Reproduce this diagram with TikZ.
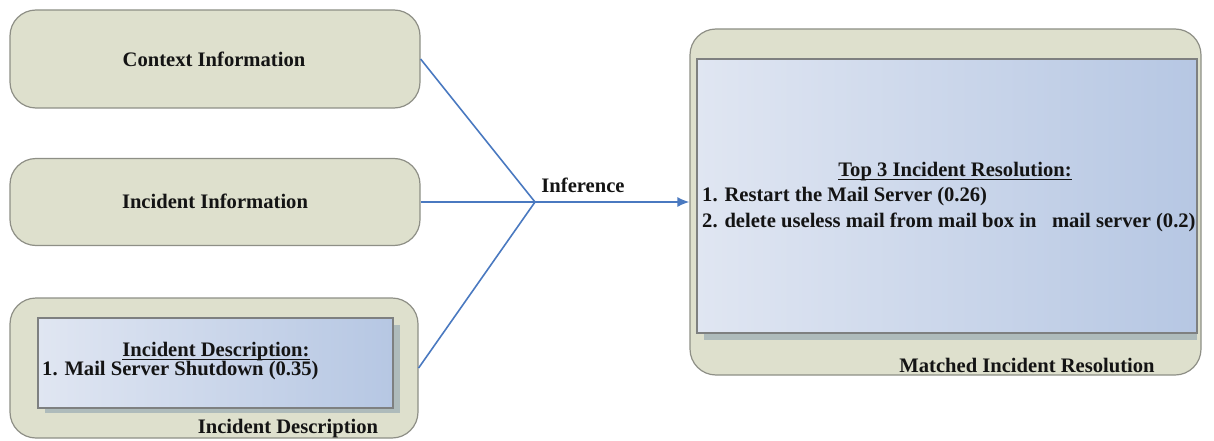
\documentclass[tikz,border=0pt]{standalone}
\usepackage{fontspec}
\setmainfont{Liberation Serif}
\usetikzlibrary{arrows.meta}
\begin{document}
\begin{tikzpicture}[x=1pt,y=-1pt,
  outerbox/.style={draw=boxline, line width=1.2pt, fill=boxfill, rounded corners=26pt,
    inner sep=0pt, minimum width=#1},
  innerbox/.style={draw=innerline, line width=2.6pt, left color=blueL, right color=blueR,
    inner sep=0pt},
  shadowbox/.style={fill=shadowc, draw=none},
  lbl/.style={font=\fontsize{20.6}{24}\selectfont\bfseries, text=txt, inner sep=0pt},
  uline/.style={draw=txt, line width=1pt},
  link/.style={draw=linkc, line width=1.6pt},
]
\definecolor{boxfill}{HTML}{DEE0CD}
\definecolor{boxline}{HTML}{8E8F86}
\definecolor{innerline}{HTML}{7E8080}
\definecolor{blueL}{HTML}{E0E6F2}
\definecolor{blueR}{HTML}{B6C7E3}
\definecolor{shadowc}{HTML}{AEBBBB}
\definecolor{linkc}{HTML}{4A79C0}
\definecolor{txt}{HTML}{141414}

\useasboundingbox (0,0) rectangle (1214,441);

% input boxes on the left
\node[outerbox=410pt, minimum height=98pt] (ctx) at (215,59) {};
\node[lbl] (ctxt) at (214,59) {Context Information};

\node[outerbox=410pt, minimum height=87pt] (inc) at (215,202) {};
\node[lbl] (inct) at (215,201) {Incident Information};

\node[outerbox=408pt, minimum height=140pt] (desc) at (214,368) {};
\fill[shadowc] (45,325) rectangle (400,413);
\node[innerbox, minimum width=355pt, minimum height=90pt] (descin) at (215.5,363) {};
\node[lbl] (desch) at (216,352) {Incident Description:};
\draw[uline] ([yshift=-2.2pt]desch.base west) -- ([yshift=-2.2pt]desch.base east);
\node[lbl, anchor=west] (desci) at (42,371) {1. Mail Server Shutdown (0.35)};
\node[lbl] (descl) at (288,429) {Incident Description};

% result box on the right
\node[outerbox=511pt, minimum height=346pt] (res) at (945.5,202) {};
\fill[shadowc] (704,66) rectangle (1197,340);
\node[innerbox, minimum width=500pt, minimum height=274pt] (resin) at (947,196) {};
\node[lbl] (resh) at (955,172) {Top 3 Incident Resolution:};
\draw[uline] ([yshift=-2.2pt]resh.base west) -- ([yshift=-2.2pt]resh.base east);
\node[lbl, anchor=west] (res1) at (702,197) {1. Restart the Mail Server (0.26)};
\node[lbl, anchor=west] (res2) at (702,222) {2. delete useless mail from mail box in\ \ \ mail server (0.2)};
\node[lbl] (resl) at (1027,365) {Matched Incident Resolution};

% inference connectors
\coordinate (J) at (535,202);
\draw[link] (ctx.east) -- (J);
\draw[link] (inc.east) -- (J);
\draw[link] (desc.east) -- (J);
\draw[link, -{Latex[length=12pt,width=10pt]}] (J) -- (res.west);
\node[lbl] (inf) at (583,185) {Inference};
\end{tikzpicture}
\end{document}
